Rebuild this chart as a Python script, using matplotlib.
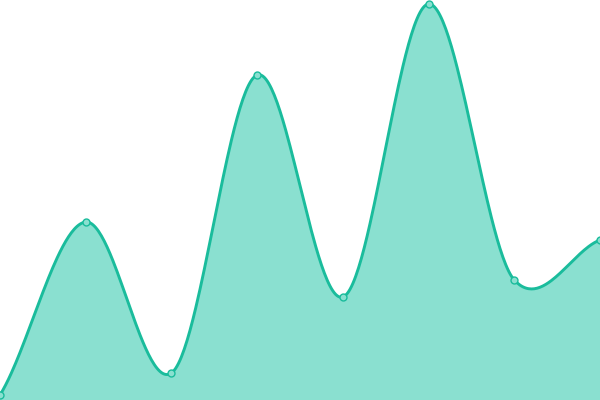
import numpy as np
import matplotlib.pyplot as plt

# data (value axis 0..400, bottom = 0)
x_pos = [0, 1, 2, 3, 4, 5, 6, 7]
values = [5, 178, 27, 325, 103, 396, 120, 160]


def smooth_curve(x, y, tension=0.8, n=60):
    # cardinal spline through every point, tangents from neighbours
    x = np.asarray(x, float)
    y = np.asarray(y, float)
    m = np.zeros_like(y)
    m[1:-1] = (y[2:] - y[:-2]) / (x[2:] - x[:-2])
    m[0] = (y[1] - y[0]) / (x[1] - x[0])
    m[-1] = (y[-1] - y[-2]) / (x[-1] - x[-2])
    m *= tension
    xs, ys = [], []
    for i in range(len(x) - 1):
        h = x[i + 1] - x[i]
        t = np.linspace(0, 1, n, endpoint=False)
        h00 = 2 * t**3 - 3 * t**2 + 1
        h10 = t**3 - 2 * t**2 + t
        h01 = -2 * t**3 + 3 * t**2
        h11 = t**3 - t**2
        xs.append(x[i] + t * h)
        ys.append(h00 * y[i] + h10 * h * m[i] + h01 * y[i + 1] + h11 * h * m[i + 1])
    xs.append([x[-1]])
    ys.append([y[-1]])
    return np.concatenate(xs), np.concatenate(ys)


xs, ys = smooth_curve(x_pos, values)

fig = plt.figure(figsize=(6, 4), dpi=100)
ax = fig.add_axes([0, 0, 1, 1])

ax.fill_between(xs, ys, 0, color='#8ae0d0', lw=0)
ax.plot(xs, ys, color='#1abc9c', lw=2.1, solid_capstyle='round')
ax.plot(x_pos, values, 'o', ms=5, mfc='#8ae0d0', mec='#1abc9c', mew=1)

ax.set_xlim(0, 7)
ax.set_ylim(0, 400)
ax.axis('off')

fig.savefig('out.png', dpi=100)
